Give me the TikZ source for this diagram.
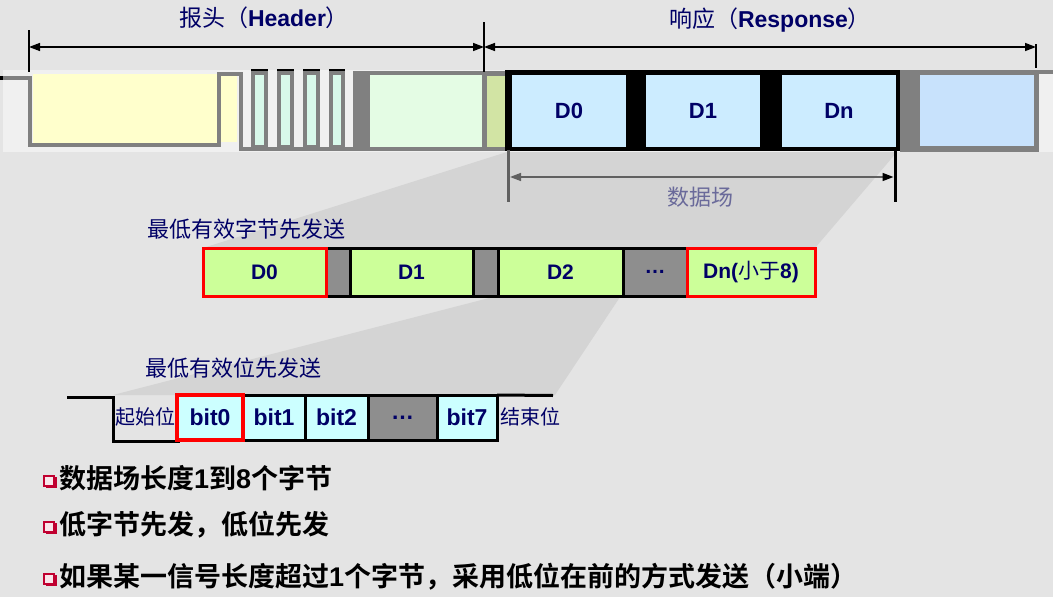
\documentclass[tikz,border=0pt]{standalone}
\usepackage{fontspec}
\setmainfont{Liberation Sans}
\newfontfamily\cjk{Noto Sans CJK SC}[BoldFont={Noto Sans CJK SC Bold}]
\usetikzlibrary{arrows.meta}
\definecolor{bg}{HTML}{E4E4E4}
\definecolor{band}{HTML}{F0F0F0}
\definecolor{funnel}{HTML}{D4D4D4}
\definecolor{wgray}{HTML}{808080}
\definecolor{navy}{HTML}{000066}
\definecolor{yel}{HTML}{FFFFCC}
\definecolor{mint}{HTML}{D8F8EA}
\definecolor{hgreen}{HTML}{E4FCE4}
\definecolor{olive}{HTML}{D2E4A4}
\definecolor{rblue}{HTML}{CCECFF}
\definecolor{rblue2}{HTML}{C8E2FC}
\definecolor{bgreen}{HTML}{CCFF99}
\definecolor{gapgray}{HTML}{8E8E8E}
\definecolor{bcyan}{HTML}{CCFFFF}
\definecolor{dimgray}{HTML}{606060}
\definecolor{fieldlbl}{HTML}{6A6A9A}
\definecolor{bulred}{HTML}{C00030}
\begin{document}
\begin{tikzpicture}[x=1pt,y=-1pt,
  wave/.style={draw=wgray, line width=4pt},
  tickline/.style={draw=black, line width=2pt},
  dimarrow/.style={{Triangle[length=11pt,width=8pt]}-{Triangle[length=11pt,width=8pt]}, line width=1.5pt},
  rcell/.style={fill=rblue, minimum width=114pt, minimum height=72pt, inner sep=0pt, outer sep=0pt, font=\fontsize{22}{26}\selectfont\bfseries, text=navy},
  bcell/.style={draw=black, line width=3pt, minimum height=48pt, inner sep=0pt, outer sep=0pt, font=\fontsize{21}{24}\selectfont\bfseries, text=navy, fill=bgreen},
  gcell/.style={bcell, fill=gapgray},
  redcell/.style={draw=red, line width=3pt},
  bitcell/.style={draw=black, line width=3pt, minimum height=45pt, inner sep=0pt, outer sep=0pt, font=\fontsize{23}{26}\selectfont\bfseries, text=navy, fill=bcyan},
  lbl/.style={inner sep=0pt, text=navy, font=\fontsize{23}{27}\selectfont},
  sidelbl/.style={inner sep=0pt, text=navy, font=\cjk\fontsize{20}{24}\selectfont},
  bul/.style={inner sep=0pt, anchor=west, text=black, font=\cjk\bfseries\fontsize{27}{30}\selectfont},
  bulbox/.style={minimum size=10pt, inner sep=0pt, draw=bulred, line width=1.5pt, fill=white!90!bulred}
]
\useasboundingbox (0,0) rectangle (1053,597);
\fill[bg] (0,0) rectangle (1053,597);
% light band
\fill[band] (3,70) rectangle (1053,152);
% funnels
\fill[funnel] (507,152) -- (897,152) -- (815,248) -- (203,248) -- cycle;
\fill[funnel] (493,297) -- (620,297) -- (555,395) -- (113,395) -- cycle;
% header waveform
\fill[yel] (33,74) rectangle (217,143);
\fill[yel] (221,76) rectangle (237,142);
\fill[black] (0,75.5) rectangle (3,80);
\draw[wave] (3,78) -- (29.5,78) -- (29.5,145) -- (219,145) -- (219,74) -- (241,74) -- (241,148.5) -- (355,148.5);
\foreach \xa/\xb in {253/266, 279/292, 305/318, 331/343}{
  \draw[wave, fill=mint] (\xa,73) rectangle (\xb,146.5);
  \draw[black, line width=2pt] (\xa-2,69.5) -- (\xb+2,69.5);
}
\fill[wgray] (353,71) rectangle (507,150.5);
\fill[hgreen] (370,74.5) rectangle (482,147);
\fill[olive] (487,75.5) rectangle (505,147);
% response box
\node[fill=black, minimum width=395pt, minimum height=81pt, inner sep=0pt, outer sep=0pt] (resp) at (702.5,110.5) {};
\node[rcell] (rD0) at (569,111) {D0};
\node[rcell] (rD1) at (703,111) {D1};
\node[rcell] (rDn) at (839,111) {Dn};
% right trailing frame
\fill[wgray] (900,70) rectangle (1039,151.5);
\node[fill=rblue2, minimum width=114pt, minimum height=71pt, inner sep=0pt] (rtail) at (977,110.5) {};
\fill[wgray] (1039,70) rectangle (1053,73.5);
% dimension ticks and arrows
\coordinate (t1a) at (29,30);   \coordinate (t1b) at (29,72);
\coordinate (t2a) at (484,22);  \coordinate (t2b) at (484,72);
\coordinate (t3a) at (1036,44); \coordinate (t3b) at (1036,68);
\draw[tickline] (t1a) -- (t1b);
\draw[tickline] (t2a) -- (t2b);
\draw[tickline] (t3a) -- (t3b);
\coordinate (h1) at (29,47); \coordinate (h2) at (484,47); \coordinate (h3) at (1036,47);
\draw[dimarrow] (h1) -- (h2);
\draw[dimarrow] (h2) -- (h3);
\node[lbl] (hdrlbl) at (264,18) {{\cjk 报头（}\textbf{Header}{\cjk ）}};
\node[lbl] (reslbl) at (770,20) {{\cjk 响应（}\textbf{Response}{\cjk ）}};
% data field dimension
\coordinate (d1a) at (508.5,150); \coordinate (d1b) at (508.5,202);
\coordinate (d2a) at (895,150); \coordinate (d2b) at (895,202);
\draw[draw=dimgray, line width=3pt] (d1a) -- (d1b);
\draw[draw=black, line width=3pt] (d2a) -- (d2b);
\coordinate (f1) at (510,177); \coordinate (f2) at (893.5,177);
\draw[dimgray, line width=1.5pt, {Triangle[length=11pt,width=8pt,color=dimgray]}-{Triangle[length=11pt,width=8pt,color=black]}] (f1) -- (f2);
\node[inner sep=0pt, text=fieldlbl, font=\cjk\fontsize{22}{26}\selectfont] (fieldlbl) at (700,197) {数据场};
% byte row
\node[inner sep=0pt, anchor=west, text=navy, font=\cjk\fontsize{22}{26}\selectfont] (bytelbl) at (147,229) {最低有效字节先发送};
\node[gcell, minimum width=24pt] (g1) at (338,272) {};
\node[bcell, minimum width=123pt] (bD1) at (411.5,272) {D1};
\node[gcell, minimum width=25pt] (g2) at (485.5,272) {};
\node[bcell, minimum width=125pt] (bD2) at (560.5,272) {D2};
\node[gcell, minimum width=64pt] (bdots) at (655,272) {…};
\node[bcell, redcell, minimum width=123pt] (bD0) at (264.5,272) {D0};
\node[bcell, redcell, minimum width=128pt] (bDn) at (751,272) {Dn({\cjk\mdseries 小于}8)};
% bit row
\node[inner sep=0pt, anchor=west, text=navy, font=\cjk\fontsize{22}{26}\selectfont] (bitlbl) at (145,368) {最低有效位先发送};
\coordinate (w0) at (67,397); \coordinate (w1) at (113,397); \coordinate (w2) at (113,441);
\coordinate (w3) at (180,441);
\draw[black, line width=3pt] (w0) -- (w1) -- (w2) -- (w3);
\node[bitcell, minimum width=62pt] (bit1) at (274,417.5) {bit1};
\node[bitcell, minimum width=63pt] (bit2) at (336.5,417.5) {bit2};
\node[bitcell, minimum width=69pt, fill=gapgray] (bitdots) at (402.5,417.5) {…};
\node[bitcell, minimum width=60pt] (bit7) at (467,417.5) {bit7};
\node[bitcell, draw=red, line width=4pt, minimum width=66pt] (bit0) at (210,417.5) {bit0};
\coordinate (e1) at (553,395.5);
\draw[black, line width=3pt] (bit7.north east) -- (e1);
\node[sidelbl] (startlbl) at (145,417) {起始位};
\node[sidelbl] (endlbl) at (530,417) {结束位};
% bullets
\foreach \n/\y in {1/480, 2/526, 3/578}{
  \fill[bulred] (46,\y-3) rectangle (57,\y+8);
  \node[bulbox] (bb\n) at (49,\y+1) {};
}
\node[bul] (b1) at (59,478) {数据场长度{\rmfamily 1}到{\rmfamily 8}个字节};
\node[bul] (b2) at (59,525) {低字节先发，低位先发};
\node[bul] (b3) at (59,577) {如果某一信号长度超过{\rmfamily 1}个字节，采用低位在前的方式发送（小端）};
\end{tikzpicture}
\end{document}
